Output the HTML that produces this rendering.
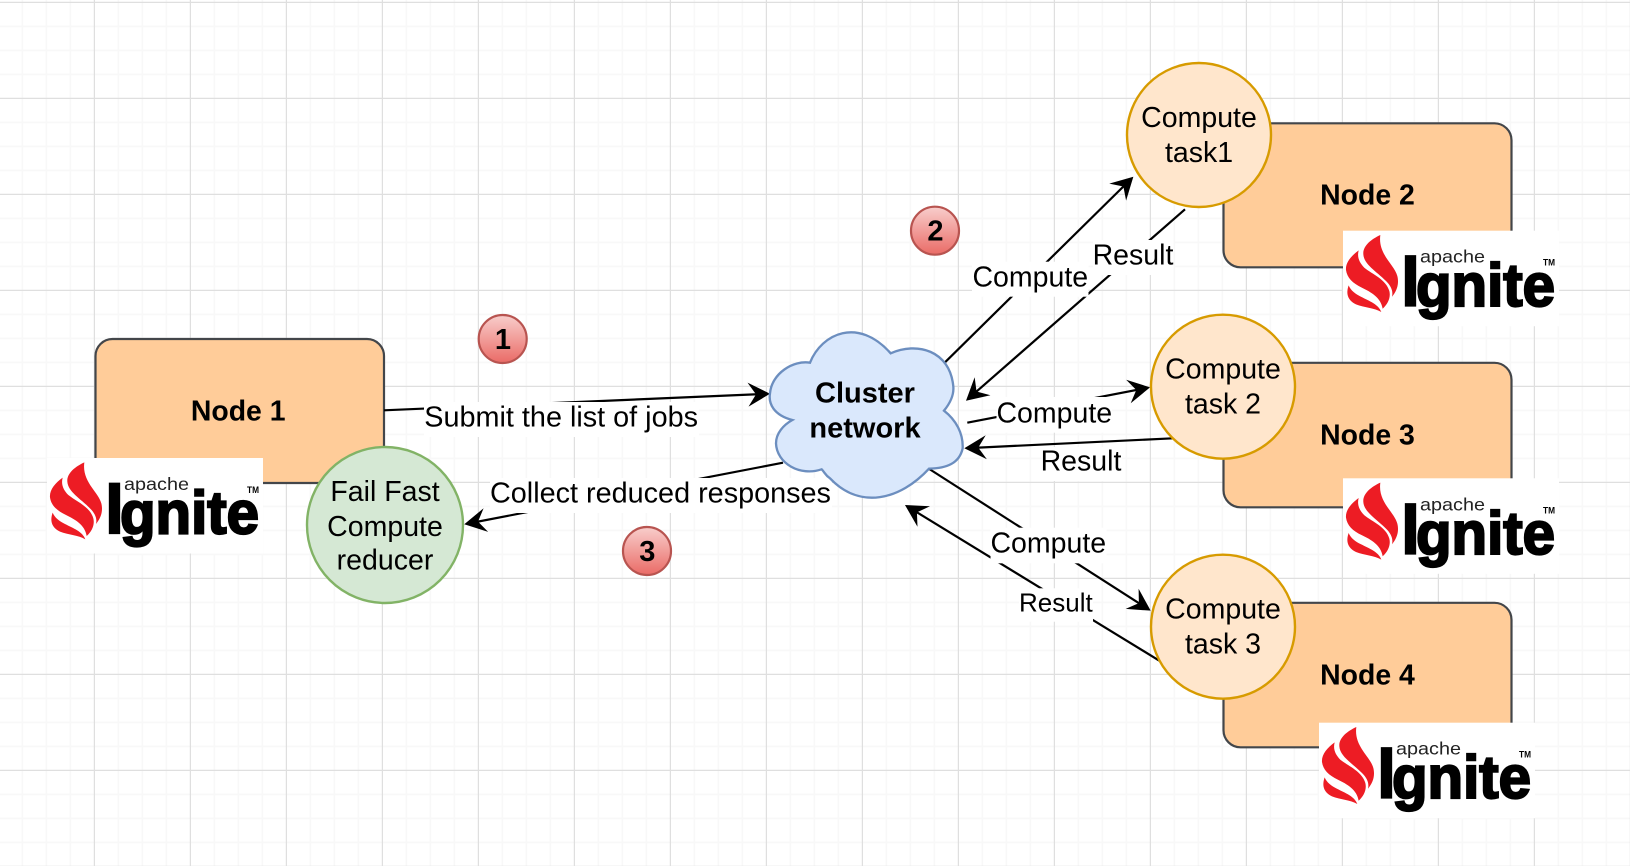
<!DOCTYPE html>
<html lang="en">
<head>
<meta charset="utf-8">
<title>Fail Fast Compute diagram</title>
<style>
html,body{margin:0;padding:0;background:#fff;width:1630px;height:866px;overflow:hidden}
svg{display:block}
text{font-family:"Liberation Sans",Arial,sans-serif;fill:#000}
.b{font-weight:bold;font-size:28.4px}
.c{text-anchor:middle;font-size:28.5px}
.l{font-size:28.8px}
.d{font-weight:bold;font-size:29px;text-anchor:middle}
.e{stroke:#000;stroke-width:2.2;fill:none;marker-end:url(#ah)}
.node{fill:#ffcc99;stroke:#43464a;stroke-width:2.2}
.task{fill:#ffe6cc;stroke:#d79b00;stroke-width:2.4}
.badge{fill:url(#rg);stroke:#b85450;stroke-width:2.2}
.fl{fill:#ed1c24}
</style>
</head>
<body>
<svg width="1630" height="866" viewBox="0 0 1630 866" xmlns="http://www.w3.org/2000/svg">
<defs>
<pattern id="grid" width="96" height="96" patternUnits="userSpaceOnUse">
<g stroke="#f8f8f8" stroke-width="1.6" fill="none">
<path d="M22.4,0V96M46.4,0V96M70.4,0V96M0,26.4H96M0,50.4H96M0,74.4H96"/>
</g>
<g stroke="#dfdfdf" stroke-width="1.2" fill="none">
<path d="M94.4,0V96M0,2.4H96"/>
</g>
</pattern>
<linearGradient id="rg" x1="0" y1="0" x2="0" y2="1">
<stop offset="0" stop-color="#f8cecc"/>
<stop offset="1" stop-color="#ea6b66"/>
</linearGradient>
<marker id="ah" markerUnits="userSpaceOnUse" markerWidth="22" markerHeight="24" refX="18" refY="12" orient="auto" overflow="visible">
<path d="M22,12 L0,0 L8,12 L0,24 Z" fill="#000"/>
</marker>
</defs>

<rect width="1630" height="866" fill="#fff"/>
<rect width="1630" height="866" fill="url(#grid)"/>

<!-- Nodes -->
<rect class="node" x="95.5" y="339" width="288.5" height="144" rx="17"/>
<rect class="node" x="1223.5" y="123.3" width="288" height="144" rx="17"/>
<rect class="node" x="1223.5" y="362.8" width="288" height="144.5" rx="17"/>
<rect class="node" x="1223.5" y="602.8" width="288" height="144.5" rx="17"/>
<text class="b" x="238.2" y="420.7" text-anchor="middle">Node 1</text>
<text class="b" x="1367.5" y="204.5" text-anchor="middle">Node 2</text>
<text class="b" x="1367.5" y="444.3" text-anchor="middle">Node 3</text>
<text class="b" x="1367.5" y="684.3" text-anchor="middle">Node 4</text>

<!-- Connectors -->
<line class="e" x1="384" y1="410.3" x2="766" y2="393.9"/>
<line class="e" x1="783" y1="462.7" x2="468.2" y2="523.5"/>
<line class="e" x1="945" y1="362.3" x2="1130.5" y2="179.5"/>
<line class="e" x1="1185" y1="209.3" x2="969" y2="398.1"/>
<line class="e" x1="967.3" y1="422.7" x2="1146.1" y2="388.1"/>
<line class="e" x1="1173" y1="438.3" x2="968.3" y2="448.1"/>
<line class="e" x1="929.3" y1="469" x2="1147.3" y2="608.5"/>
<line class="e" x1="1159.3" y1="660.7" x2="908.4" y2="507.1"/>

<!-- Connector labels -->
<rect x="424" y="402" width="275" height="35" fill="#fff"/>
<text class="l" x="424.3" y="426.7">Submit the list of jobs</text>
<rect x="490" y="478" width="342" height="35" fill="#fff"/>
<text class="l" x="490" y="502.3">Collect reduced responses</text>
<rect x="972" y="261.7" width="116.5" height="35" fill="#fff"/>
<text class="c" x="1030.3" y="286.7">Compute</text>
<rect x="1093" y="240" width="80.5" height="35" fill="#fff"/>
<text class="c" x="1133" y="264.3">Result</text>
<rect x="996.5" y="397" width="115.5" height="35.7" fill="#fff"/>
<text class="c" x="1054.3" y="422.3">Compute</text>
<rect x="1041.5" y="447" width="80" height="34" fill="#fff"/>
<text class="c" x="1081" y="470.7">Result</text>
<rect x="990.5" y="527.7" width="116" height="35.6" fill="#fff"/>
<text class="c" x="1048.3" y="552.3">Compute</text>
<rect x="1019" y="588.3" width="74" height="33.4" fill="#fff"/>
<text x="1019" y="611.3" font-size="26">Result</text>

<!-- Cloud -->
<g transform="translate(730,300) scale(0.33333)">
<path d="M240,188 C275,100 385,50 482,160 C560,125 660,150 670,260 C672,285 660,310 642,332 C678,360 700,400 698,445 C688,490 650,505 597,506 C510,600 390,630 300,535 C285,525 285,518 275,508 C210,530 140,490 138,430 C138,400 160,375 187,360 C130,345 115,310 120,280 C125,220 190,180 240,188 Z" fill="#dae8fc" stroke="#6c8ebf" stroke-width="7"/>
</g>
<text x="865" y="402.3" text-anchor="middle" font-size="29" font-weight="bold">Cluster</text>
<text x="865" y="437.7" text-anchor="middle" font-size="29" font-weight="bold">network</text>

<!-- Circles -->
<circle cx="385" cy="525" r="78" fill="#d5e8d4" stroke="#82b366" stroke-width="2.4"/>
<text class="c" x="385" y="501">Fail Fast</text>
<text class="c" x="385" y="536">Compute</text>
<text class="c" x="385" y="569.3">reducer</text>

<circle class="task" cx="1199" cy="135" r="72"/>
<text class="c" x="1199" y="127">Compute</text>
<text class="c" x="1199" y="162">task1</text>

<circle class="task" cx="1223" cy="386.7" r="72"/>
<text class="c" x="1223" y="378.3">Compute</text>
<text class="c" x="1223" y="413.3">task 2</text>

<circle class="task" cx="1223" cy="626.7" r="72"/>
<text class="c" x="1223" y="618.3">Compute</text>
<text class="c" x="1223" y="653.3">task 3</text>

<!-- Badges -->
<circle class="badge" cx="502.7" cy="339" r="24"/>
<text class="d" x="503" y="349">1</text>
<circle class="badge" cx="935" cy="230.7" r="24"/>
<text class="d" x="935.5" y="240.7">2</text>
<circle class="badge" cx="647" cy="551" r="24"/>
<text class="d" x="647.3" y="561">3</text>

<!-- Logos -->
<g transform="translate(47,458)">
<rect width="216" height="95.5" fill="#fff"/>
<g transform="translate(-7,-8) scale(0.33333)">
<path class="fl" d="M133,37 C105,50 80,70 82,95 C84,125 120,145 150,175 C165,190 172,205 168,222 C182,205 190,185 184,160 C175,125 125,95 133,37 Z"/>
<path class="fl" d="M68,83 C45,100 28,120 30,142 C33,165 50,182 78,195 C105,208 135,225 140,258 C155,245 165,225 160,205 C150,170 110,155 85,135 C72,122 62,105 68,83 Z"/>
<path class="fl" d="M38,188 C30,210 33,232 60,245 C85,255 115,255 136,268 C128,245 100,235 75,222 C58,214 44,203 38,188 Z"/>
</g>
<text x="58.5" y="75" font-size="71" font-weight="bold" textLength="18" lengthAdjust="spacingAndGlyphs" stroke="#000" stroke-width="2.2">I</text>
<text x="73" y="75.5" font-size="60" font-weight="bold" textLength="139" lengthAdjust="spacingAndGlyphs" stroke="#000" stroke-width="2.2">gnite</text>
<text x="77" y="32" font-size="17.5" textLength="65" lengthAdjust="spacingAndGlyphs" style="fill:#222">apache</text>
<text x="200" y="35" font-size="9" font-weight="bold" textLength="12" lengthAdjust="spacingAndGlyphs">TM</text>
</g>

<g transform="translate(1343,230.7)">
<rect width="216" height="95.5" fill="#fff"/>
<g transform="translate(-7,-8) scale(0.33333)">
<path class="fl" d="M133,37 C105,50 80,70 82,95 C84,125 120,145 150,175 C165,190 172,205 168,222 C182,205 190,185 184,160 C175,125 125,95 133,37 Z"/>
<path class="fl" d="M68,83 C45,100 28,120 30,142 C33,165 50,182 78,195 C105,208 135,225 140,258 C155,245 165,225 160,205 C150,170 110,155 85,135 C72,122 62,105 68,83 Z"/>
<path class="fl" d="M38,188 C30,210 33,232 60,245 C85,255 115,255 136,268 C128,245 100,235 75,222 C58,214 44,203 38,188 Z"/>
</g>
<text x="58.5" y="75" font-size="71" font-weight="bold" textLength="18" lengthAdjust="spacingAndGlyphs" stroke="#000" stroke-width="2.2">I</text>
<text x="73" y="75.5" font-size="60" font-weight="bold" textLength="139" lengthAdjust="spacingAndGlyphs" stroke="#000" stroke-width="2.2">gnite</text>
<text x="77" y="32" font-size="17.5" textLength="65" lengthAdjust="spacingAndGlyphs" style="fill:#222">apache</text>
<text x="200" y="35" font-size="9" font-weight="bold" textLength="12" lengthAdjust="spacingAndGlyphs">TM</text>
</g>

<g transform="translate(1343,478.3)">
<rect width="216" height="95.5" fill="#fff"/>
<g transform="translate(-7,-8) scale(0.33333)">
<path class="fl" d="M133,37 C105,50 80,70 82,95 C84,125 120,145 150,175 C165,190 172,205 168,222 C182,205 190,185 184,160 C175,125 125,95 133,37 Z"/>
<path class="fl" d="M68,83 C45,100 28,120 30,142 C33,165 50,182 78,195 C105,208 135,225 140,258 C155,245 165,225 160,205 C150,170 110,155 85,135 C72,122 62,105 68,83 Z"/>
<path class="fl" d="M38,188 C30,210 33,232 60,245 C85,255 115,255 136,268 C128,245 100,235 75,222 C58,214 44,203 38,188 Z"/>
</g>
<text x="58.5" y="75" font-size="71" font-weight="bold" textLength="18" lengthAdjust="spacingAndGlyphs" stroke="#000" stroke-width="2.2">I</text>
<text x="73" y="75.5" font-size="60" font-weight="bold" textLength="139" lengthAdjust="spacingAndGlyphs" stroke="#000" stroke-width="2.2">gnite</text>
<text x="77" y="32" font-size="17.5" textLength="65" lengthAdjust="spacingAndGlyphs" style="fill:#222">apache</text>
<text x="200" y="35" font-size="9" font-weight="bold" textLength="12" lengthAdjust="spacingAndGlyphs">TM</text>
</g>

<g transform="translate(1319,722.7)">
<rect width="216" height="95.5" fill="#fff"/>
<g transform="translate(-7,-8) scale(0.33333)">
<path class="fl" d="M133,37 C105,50 80,70 82,95 C84,125 120,145 150,175 C165,190 172,205 168,222 C182,205 190,185 184,160 C175,125 125,95 133,37 Z"/>
<path class="fl" d="M68,83 C45,100 28,120 30,142 C33,165 50,182 78,195 C105,208 135,225 140,258 C155,245 165,225 160,205 C150,170 110,155 85,135 C72,122 62,105 68,83 Z"/>
<path class="fl" d="M38,188 C30,210 33,232 60,245 C85,255 115,255 136,268 C128,245 100,235 75,222 C58,214 44,203 38,188 Z"/>
</g>
<text x="58.5" y="75" font-size="71" font-weight="bold" textLength="18" lengthAdjust="spacingAndGlyphs" stroke="#000" stroke-width="2.2">I</text>
<text x="73" y="75.5" font-size="60" font-weight="bold" textLength="139" lengthAdjust="spacingAndGlyphs" stroke="#000" stroke-width="2.2">gnite</text>
<text x="77" y="32" font-size="17.5" textLength="65" lengthAdjust="spacingAndGlyphs" style="fill:#222">apache</text>
<text x="200" y="35" font-size="9" font-weight="bold" textLength="12" lengthAdjust="spacingAndGlyphs">TM</text>
</g>
</svg>
</body>
</html>
